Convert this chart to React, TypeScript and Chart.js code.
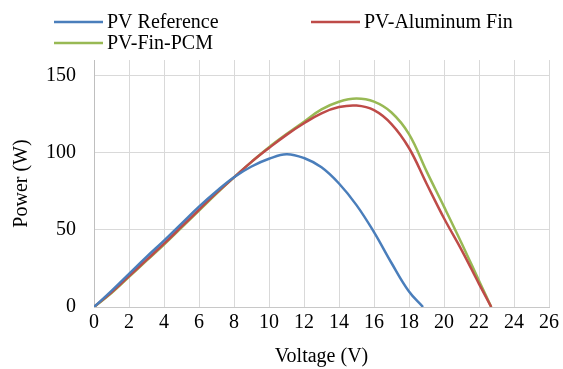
import React, { useEffect, useRef } from "react";
import { Chart, registerables } from "chart.js";

Chart.register(...registerables);

const seriesNames = ["PV Reference", "PV-Aluminum Fin", "PV-Fin-PCM"];
const seriesColors = ["#4A7EBB", "#BE4B48", "#98B954"];

const refVoltage = [0, 1, 2, 3, 4, 5, 6, 7, 8, 9, 10, 11, 12, 13, 14, 15, 16, 17, 18, 18.8];
const refPower = [0, 10.5, 21.5, 32.5, 43, 54, 65, 75, 84, 91, 96, 99, 96.5, 90.5, 80, 66, 48.5, 28.5, 10, 0];

const finVoltage = [0, 1, 2, 3, 4, 5, 6, 7, 8, 9, 10, 11, 12, 13, 14, 15, 16, 17, 18, 19, 20, 21, 22, 22.7];
const aluminumPower = [0, 9.5, 20, 30.5, 41, 52, 63, 74, 84, 94, 103, 111.5, 119, 125.5, 129.5, 130.5, 127.5, 118.5, 103, 80, 57.5, 37, 15, 0];
const pcmPower = [0, 9, 19.5, 30, 40.5, 51.5, 62.5, 73.5, 84, 94, 103.5, 112, 120, 128, 133, 135, 133, 126, 112, 88, 65, 41.5, 17, 0];

const xTicks = [0, 2, 4, 6, 8, 10, 12, 14, 16, 18, 20, 22, 24, 26];
const yTicks = [0, 50, 100, 150];

const FAMILY = '"Liberation Serif"';

const legendPlugin = {
  id: "customLegend",
  afterDraw(chart: any) {
    const ctx = chart.ctx;
    const pos = [
      { x: 54, y: 22 },
      { x: 311, y: 22 },
      { x: 54, y: 43 },
    ];
    ctx.save();
    ctx.font = "20px " + FAMILY;
    ctx.textBaseline = "middle";
    ctx.textAlign = "left";
    chart.data.datasets.forEach((ds: any, i: number) => {
      const p = pos[i];
      ctx.strokeStyle = ds.borderColor;
      ctx.lineWidth = 2.5;
      ctx.beginPath();
      ctx.moveTo(p.x, p.y);
      ctx.lineTo(p.x + 49, p.y);
      ctx.stroke();
      ctx.fillStyle = "#000";
      ctx.fillText(ds.label, p.x + 53, p.y + 1);
    });
    ctx.restore();
  },
};

export default function App() {
  const ref = useRef<HTMLCanvasElement>(null);
  useEffect(() => {
    const canvas = ref.current!;
    // request a CPU-backed 2D context before Chart.js asks for it
    canvas.getContext("2d", { willReadFrequently: true } as any);
    const toPts = (xs: number[], ys: number[]) => xs.map((x, i) => ({ x, y: ys[i] }));
    const fontSpec = { family: FAMILY, size: 20 };
    const chart = new Chart(canvas, {
      type: "line",
      data: {
        datasets: [
          { label: seriesNames[0], data: toPts(refVoltage, refPower), borderColor: seriesColors[0] },
          { label: seriesNames[1], data: toPts(finVoltage, aluminumPower), borderColor: seriesColors[1] },
          { label: seriesNames[2], data: toPts(finVoltage, pcmPower), borderColor: seriesColors[2] },
        ],
      },
      options: {
        responsive: false,
        devicePixelRatio: 1,
        animation: false,
        layout: { padding: { top: 60, right: 11, left: 0, bottom: 0 } },
        elements: {
          point: { radius: 0 },
          line: { borderWidth: 2.5, tension: 0.4, fill: false },
        },
        plugins: { legend: { display: false }, tooltip: { enabled: false } },
        scales: {
          x: {
            type: "linear",
            min: 0,
            max: 26,
            afterBuildTicks: (axis: any) => {
              axis.ticks = xTicks.map((v) => ({ value: v }));
            },
            afterFit: (scale: any) => {
              scale.height = 62;
            },
            grid: { color: "#D9D9D9", lineWidth: 1, drawTicks: false },
            border: { color: "#C8C8C8", width: 1 },
            ticks: { color: "#000", font: fontSpec, padding: 4, maxRotation: 0, autoSkip: false },
            title: { display: true, text: "Voltage (V)", color: "#000", font: fontSpec, padding: { top: 0, bottom: 0 } },
          },
          y: {
            type: "linear",
            min: 0,
            max: 160,
            afterBuildTicks: (axis: any) => {
              axis.ticks = yTicks.map((v) => ({ value: v }));
            },
            afterFit: (scale: any) => {
              scale.width = 94;
            },
            grid: { color: "#D9D9D9", lineWidth: 1, drawTicks: false },
            border: { color: "#BFBFBF", width: 1 },
            ticks: { color: "#000", font: fontSpec, padding: 18 },
            title: { display: true, text: "Power (W)", color: "#000", font: fontSpec, padding: { top: 10, bottom: 0 } },
          },
        },
      },
      plugins: [legendPlugin],
    });
    return () => chart.destroy();
  }, []);
  return (
    <div style={{ position: "absolute", left: 0, top: 0, width: 563, height: 369 }}>
      <canvas ref={ref} width={563} height={369} />
    </div>
  );
}
